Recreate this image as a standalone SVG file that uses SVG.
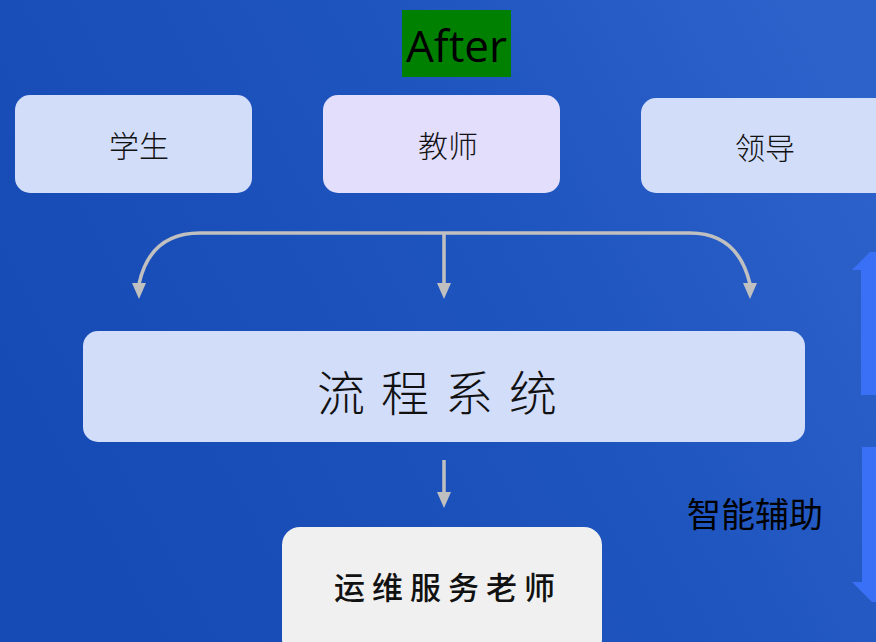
<svg xmlns="http://www.w3.org/2000/svg" width="876" height="642" viewBox="0 0 876 642">
<defs>
<linearGradient id="bg" x1="0" y1="0.6" x2="1" y2="0.2">
<stop offset="0" stop-color="#164ab4"/>
<stop offset="0.6" stop-color="#1f55bf"/>
<stop offset="1" stop-color="#2e62cb"/>
</linearGradient>
<style>
.box{fill:#d2ddfa}
.t{font-family:"Noto Sans CJK SC","Noto Sans",sans-serif;font-weight:300;fill:#111;text-anchor:middle}
.c{fill:none;stroke:#c0c0c0;stroke-width:3.5}
.ah{fill:#c0c0c0}
.ba{fill:#3a70f5}
</style>
</defs>
<rect width="876" height="642" fill="url(#bg)"/>
<g id="title">
<rect x="402" y="10" width="109" height="67" fill="#008000"/>
<text x="456.5" y="62" font-family="'Open Sans','Noto Sans',sans-serif" font-size="44" text-anchor="middle" fill="#000">After</text>
</g>
<g id="student">
<rect class="box" x="15" y="95" width="237" height="98" rx="15"/>
<text class="t" x="139" y="157" font-size="30">学生</text>
</g>
<g id="teacher">
<rect x="323" y="95" width="237" height="98" rx="15" fill="#e2defc"/>
<text class="t" x="448" y="157" font-size="30">教师</text>
</g>
<g id="leader">
<rect class="box" x="641" y="98" width="250" height="95" rx="15"/>
<text class="t" x="765" y="159" font-size="30">领导</text>
</g>
<g id="process">
<rect class="box" x="83" y="331" width="722" height="111" rx="15"/>
<text class="t" x="445" y="411" font-size="48" letter-spacing="16">流程系统</text>
</g>
<g id="ops">
<rect x="282" y="527" width="320" height="130" rx="18" fill="#f0f0f0"/>
<text class="t" x="448" y="599" font-size="31" letter-spacing="7" style="font-weight:500">运维服务老师</text>
</g>
<g id="assist">
<text x="755" y="527" font-family="'Noto Sans CJK SC',sans-serif" font-size="34" text-anchor="middle" fill="#000">智能辅助</text>
<path class="ba" d="M861,395 L861,270 L852,270 L870,252 L876,252 L876,395 Z"/>
<path class="ba" d="M862,447 L876,447 L876,602 L872,602 L852,582 L862,582 Z"/>
</g>
<g id="connectors">
<path class="c" d="M139,284 Q150,233 200,233 L690,233 Q738,233 750,284"/>
<path class="c" d="M444,233 L444,284"/>
<path class="c" d="M444,460 L444,493"/>
<path class="ah" d="M132,283 L146,283 L139,299 Z"/>
<path class="ah" d="M437,283 L451,283 L444,299 Z"/>
<path class="ah" d="M743,283 L757,283 L750,299 Z"/>
<path class="ah" d="M437,492 L451,492 L444,508 Z"/>
</g>
</svg>
